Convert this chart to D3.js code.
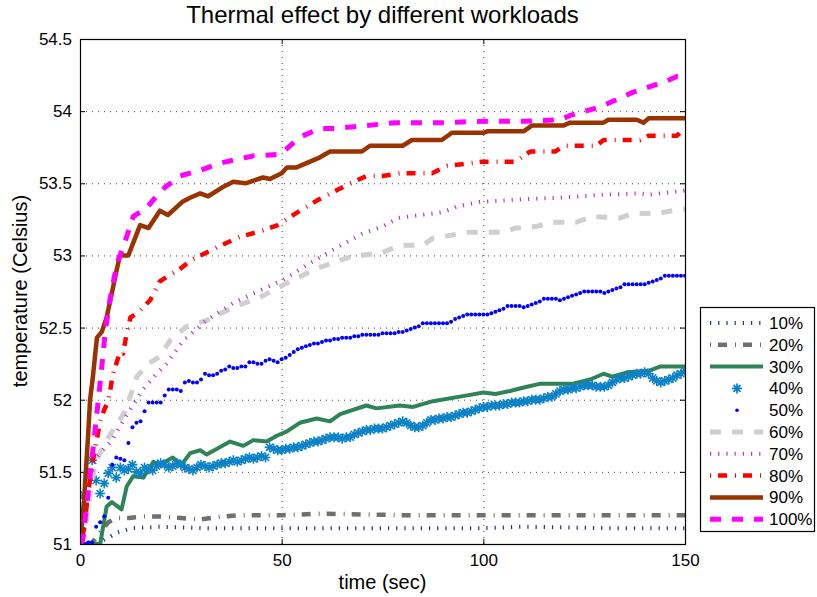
<!DOCTYPE html>
<html>
<head>
<meta charset="utf-8">
<script src="https://cdn.jsdelivr.net/npm/d3@7"></script>
<style>
    body { margin: 0; background: #fff; }
    text { font-family: "Liberation Sans", Arial, Helvetica, sans-serif; fill: #000; }
</style>
</head>
<body>
<svg id="chart" width="817" height="597"></svg>
<script>
// ---- data (time in sec, temperature in Celsius) ----
const xTicks = [0, 50, 100, 150];
const yTicks = [51, 51.5, 52, 52.5, 53, 53.5, 54, 54.5];
const labels = ["10%", "20%", "30%", "40%", "50%", "60%", "70%", "80%", "90%", "100%"];

const t10 = [0, 4, 6, 7.4, 9.2, 13, 20, 30, 50, 80, 100, 110, 130, 150];
const v10 = [51.0, 51.0, 51.03, 51.05, 51.08, 51.11, 51.12, 51.11, 51.11, 51.11, 51.11, 51.12, 51.11, 51.11];

const t20 = [0, 3, 5, 7, 9, 12, 16, 20, 25, 30, 35, 40, 50, 60, 80, 100, 120, 150];
const v20 = [51.0, 51.01, 51.08, 51.15, 51.18, 51.18, 51.19, 51.19, 51.18, 51.17, 51.19, 51.2, 51.2, 51.21, 51.2, 51.2, 51.2, 51.2];

const t30 = [0, 5, 6.6, 7.9, 10.3, 11.6, 13.2, 15.7, 18.2, 19.8, 23, 25.2, 27.3, 29.8, 31.4, 37.2, 40.5, 43, 46.3, 48.8,
    51.3, 54.5, 58.7, 62, 64.5, 71, 73.5, 79.3, 82.6, 87.5, 96, 100, 103, 106.6, 110.8, 114, 122, 126.5, 129.8, 132,
    135.6, 141, 143.8, 150];
const v30 = [51.0, 51.0, 51.26, 51.29, 51.24, 51.40, 51.47, 51.46, 51.57, 51.55, 51.6, 51.55, 51.63, 51.65, 51.62, 51.71, 51.68, 51.72, 51.71, 51.75,
    51.78, 51.84, 51.87, 51.85, 51.9, 51.96, 51.94, 51.96, 51.95, 51.99, 52.03, 52.05, 52.04, 52.06, 52.09, 52.11, 52.11, 52.14, 52.18, 52.16,
    52.19, 52.2, 52.23, 52.23];

// 40% and 50% are sampled every second, t = 0 .. 150
const v40 = [
    51.00, 51.34, 51.49, 51.58, 51.44, 51.35, 51.42, 51.49, 51.53, 51.46,
    51.53, 51.51, 51.52, 51.55, 51.50, 51.49, 51.53, 51.52, 51.51, 51.54,
    51.56, 51.55, 51.53, 51.54, 51.56, 51.55, 51.53, 51.52, 51.51, 51.53,
    51.55, 51.54, 51.53, 51.54, 51.55, 51.56, 51.56, 51.57, 51.58, 51.57,
    51.58, 51.59, 51.60, 51.59, 51.60, 51.61, 51.60, 51.67, 51.66, 51.65,
    51.65, 51.66, 51.66, 51.67, 51.67, 51.68, 51.69, 51.70, 51.71, 51.71,
    51.72, 51.73, 51.74, 51.74, 51.74, 51.73, 51.74, 51.74, 51.76, 51.77,
    51.78, 51.79, 51.79, 51.80, 51.80, 51.80, 51.81, 51.82, 51.83, 51.84,
    51.85, 51.84, 51.82, 51.81, 51.81, 51.82, 51.84, 51.86, 51.86, 51.87,
    51.87, 51.88, 51.88, 51.89, 51.90, 51.91, 51.91, 51.92, 51.93, 51.94,
    51.95, 51.95, 51.96, 51.96, 51.96, 51.97, 51.97, 51.98, 51.98, 51.98,
    51.99, 51.99, 52.00, 52.00, 52.00, 52.01, 52.02, 52.02, 52.04, 52.06,
    52.07, 52.07, 52.08, 52.08, 52.09, 52.10, 52.10, 52.10, 52.09, 52.09,
    52.09, 52.10, 52.12, 52.14, 52.15, 52.15, 52.16, 52.17, 52.18, 52.18,
    52.19, 52.18, 52.15, 52.13, 52.12, 52.13, 52.14, 52.15, 52.17, 52.18, 52.20
];
const v50 = [
    51.00, 51.00, 51.01, 51.01, 51.12, 51.15, 51.19, 51.32, 51.55, 51.60,
    51.59, 51.58, 51.70, 51.81, 51.84, 51.85, 51.92, 51.98, 51.98, 51.98,
    51.98, 52.03, 52.07, 52.07, 52.07, 52.06, 52.12, 52.13, 52.12, 52.12,
    52.14, 52.18, 52.17, 52.17, 52.18, 52.20, 52.21, 52.23, 52.22, 52.22,
    52.23, 52.23, 52.26, 52.26, 52.25, 52.25, 52.27, 52.28, 52.27, 52.26,
    52.28, 52.29, 52.31, 52.33, 52.35, 52.36, 52.37, 52.38, 52.39, 52.39,
    52.40, 52.41, 52.41, 52.42, 52.42, 52.43, 52.43, 52.43, 52.44, 52.44,
    52.45, 52.45, 52.45, 52.45, 52.45, 52.46, 52.46, 52.46, 52.46, 52.47,
    52.47, 52.48, 52.49, 52.50, 52.51, 52.53, 52.53, 52.53, 52.53, 52.53,
    52.53, 52.53, 52.54, 52.56, 52.57, 52.58, 52.59, 52.59, 52.59, 52.59,
    52.59, 52.59, 52.60, 52.61, 52.62, 52.63, 52.65, 52.65, 52.65, 52.65,
    52.64, 52.65, 52.66, 52.67, 52.68, 52.70, 52.70, 52.70, 52.70, 52.69,
    52.70, 52.71, 52.72, 52.73, 52.74, 52.75, 52.75, 52.75, 52.75, 52.75,
    52.74, 52.75, 52.76, 52.77, 52.78, 52.80, 52.80, 52.80, 52.80, 52.80,
    52.80, 52.81, 52.82, 52.83, 52.84, 52.86, 52.86, 52.86, 52.86, 52.86, 52.86
];

const t60 = [0, 1, 2, 3, 4, 5.8, 8.2, 11.2, 14.1, 17, 19.8, 22.3, 26.5, 31.4, 38, 44.6, 52.8, 58.7, 67, 75,
    79.3, 85, 87.5, 90, 96, 105, 108, 113, 117, 123, 127, 134, 137, 143, 147, 150];
const v60 = [51.0, 51.05, 51.25, 51.45, 51.57, 51.68, 51.79, 51.92, 52.16, 52.25, 52.30, 52.41, 52.51, 52.55, 52.64, 52.71, 52.83, 52.91, 52.99, 53.02,
    53.07, 53.07, 53.12, 53.13, 53.16, 53.16, 53.19, 53.20, 53.23, 53.23, 53.27, 53.26, 53.29, 53.29, 53.31, 53.32];

const t70 = [0, 1, 2, 3, 4, 6, 8, 10, 12.4, 15.6, 19, 21.5, 25.6, 31.4, 38, 44, 50.4, 56, 62.8, 70,
    75, 79, 90, 93.5, 99, 110, 119, 129, 139, 141, 150];
const v70 = [51.0, 51.15, 51.35, 51.5, 51.6, 51.66, 51.72, 51.82, 51.93, 52.07, 52.18, 52.25, 52.41, 52.55, 52.67, 52.75, 52.83, 52.93, 53.04, 53.15,
    53.2, 53.26, 53.30, 53.34, 53.37, 53.39, 53.40, 53.42, 53.43, 53.42, 53.45];

const t80 = [0, 1, 2, 3, 4, 5, 6, 7, 8.2, 9.9, 10.7, 11.5, 12.5, 13.6, 14.9, 17.4, 19.8, 22, 24.5, 27.7,
    31.4, 35, 39.7, 45, 49, 54, 58.7, 62.8, 67, 71, 75, 79.3, 87.3, 91, 100, 108, 111.6, 117.8, 120, 128,
    129.8, 138.9, 141, 148, 150];
const v80 = [51.0, 51.1, 51.35, 51.55, 51.7, 51.85, 51.93, 51.99, 52.18, 52.33, 52.32, 52.45, 52.57, 52.59, 52.62, 52.69, 52.82, 52.86, 52.9, 52.97,
    53.02, 53.07, 53.13, 53.17, 53.21, 53.3, 53.38, 53.44, 53.5, 53.55, 53.55, 53.57, 53.57, 53.62, 53.65, 53.65, 53.72, 53.72, 53.76, 53.76,
    53.80, 53.80, 53.83, 53.83, 53.88];

const t90 = [0, 1, 2, 2.5, 3.2, 4.2, 5.4, 6.6, 7.9, 9.1, 9.9, 12, 14.9, 17, 19.8, 21.8, 25.3, 27.3, 29.8, 31.8,
    35.2, 38, 41, 45.4, 47.1, 50, 51.3, 53.7, 59.5, 62, 69.9, 71.9, 80, 82.3, 89.7, 92.2, 100, 101, 110, 112,
    119.8, 121.5, 129.8, 131, 138, 139.7, 141, 150];
const v90 = [51.0, 51.3, 51.75, 52.0, 52.16, 52.43, 52.47, 52.57, 52.74, 52.9, 53.0, 53.0, 53.21, 53.19, 53.31, 53.28, 53.37, 53.40, 53.43, 53.41,
    53.47, 53.51, 53.50, 53.54, 53.53, 53.57, 53.61, 53.61, 53.68, 53.72, 53.72, 53.76, 53.76, 53.80, 53.80, 53.85, 53.85, 53.86, 53.86, 53.90,
    53.90, 53.92, 53.92, 53.94, 53.94, 53.92, 53.95, 53.95];

const t100 = [0, 0.7, 2, 3.2, 5, 5.8, 6.2, 7.4, 8.5, 9.5, 11, 13.2, 16.6, 18, 21, 24.8, 29.8, 34.7, 43, 49.6,
    54.5, 59.5, 63, 71, 78, 90, 100, 110, 119, 121.5, 129, 137, 145.5, 148, 150];
const v100 = [51.0, 51.03, 51.35, 51.65, 52.12, 52.34, 52.46, 52.69, 52.85, 52.97, 53.08, 53.27, 53.33, 53.38, 53.47, 53.55, 53.59, 53.64, 53.69, 53.70,
    53.82, 53.88, 53.88, 53.90, 53.92, 53.92, 53.93, 53.93, 53.94, 53.97, 54.03, 54.13, 54.21, 54.24, 54.24];

const seconds = d3.range(0, 151);

// ---- look of each series ----
const styles = [
    { kind: "line", t: t10, v: v10, color: "#22337a", width: 4, dash: "1.2,7" },
    { kind: "line", t: t20, v: v20, color: "#707070", width: 4.5, dash: "1,7,9,8" },
    { kind: "line", t: t30, v: v30, color: "#2e8456", width: 4, dash: null },
    { kind: "star", t: seconds, v: v40, color: "#0b82c8" },
    { kind: "dot", t: seconds, v: v50, color: "#0000ff" },
    { kind: "line", t: t60, v: v60, color: "#cfcfcf", width: 5, dash: "11,11" },
    { kind: "line", t: t70, v: v70, color: "#b43cc0", width: 4, dash: "1.2,7" },
    { kind: "line", t: t80, v: v80, color: "#ff0000", width: 4.5, dash: "1,7,9,8" },
    { kind: "line", t: t90, v: v90, color: "#993300", width: 4.5, dash: null },
    { kind: "line", t: t100, v: v100, color: "#ff00ff", width: 5, dash: "11,11" }
];

const svg = d3.select("#chart");
const x = d3.scaleLinear().domain([0, 150]).range([80, 685]);
const y = d3.scaleLinear().domain([51, 54.5]).range([544, 39]);

// matlab style '*' marker: 8 spokes
const asterisk = {
    draw(ctx, size) {
        const r = Math.sqrt(size) / 2;
        const d = r * Math.SQRT1_2;
        ctx.moveTo(-r, 0); ctx.lineTo(r, 0);
        ctx.moveTo(0, -r); ctx.lineTo(0, r);
        ctx.moveTo(-d, -d); ctx.lineTo(d, d);
        ctx.moveTo(-d, d); ctx.lineTo(d, -d);
    }
};

svg.append("defs").append("clipPath").attr("id", "plotClip")
    .append("rect").attr("x", 80).attr("y", 39).attr("width", 605).attr("height", 505);

// grid
const grid = svg.append("g").attr("stroke", "#444").attr("stroke-width", 1).attr("stroke-dasharray", "1,5");
grid.selectAll(".gx").data(xTicks.slice(1, -1)).enter().append("line")
    .attr("x1", d => x(d) + 0.5).attr("x2", d => x(d) + 0.5)
    .attr("y1", y(54.5)).attr("y2", y(51));
grid.selectAll(".gy").data(yTicks.slice(1, -1)).enter().append("line")
    .attr("x1", x(0)).attr("x2", x(150))
    .attr("y1", d => y(d) + 0.5).attr("y2", d => y(d) + 0.5);

// axes with inward ticks on all four sides
const fmt = d => String(d);
const axB = svg.append("g").attr("transform", `translate(0,${y(51)})`)
    .call(d3.axisBottom(x).tickValues(xTicks).tickFormat(fmt).tickSizeInner(-5).tickSizeOuter(0).tickPadding(10));
const axL = svg.append("g").attr("transform", `translate(${x(0)},0)`)
    .call(d3.axisLeft(y).tickValues(yTicks).tickFormat(fmt).tickSizeInner(-5).tickSizeOuter(0).tickPadding(8));
const axT = svg.append("g").attr("transform", `translate(0,${y(54.5)})`)
    .call(d3.axisTop(x).tickValues(xTicks).tickFormat("").tickSizeInner(-5).tickSizeOuter(0));
const axR = svg.append("g").attr("transform", `translate(${x(150)},0)`)
    .call(d3.axisRight(y).tickValues(yTicks).tickFormat("").tickSizeInner(-5).tickSizeOuter(0));
[axB, axL, axT, axR].forEach(a => {
    a.select(".domain").remove();
    a.selectAll("line").attr("stroke", "#000");
    a.selectAll("text").style("font-size", "17px").attr("fill", "#000");
});

// series
const plot = svg.append("g").attr("clip-path", "url(#plotClip)");
const line = d3.line().x(d => x(d[0])).y(d => y(d[1]));

styles.forEach(s => {
    const pts = s.t.map((t, i) => [t, s.v[i]]);
    if (s.kind === "line") {
        plot.append("path")
            .attr("d", line(pts))
            .attr("fill", "none")
            .attr("stroke", s.color)
            .attr("stroke-width", s.width)
            .attr("stroke-dasharray", s.dash)
            .attr("stroke-linejoin", "round");
    } else if (s.kind === "star") {
        plot.append("g").selectAll("path").data(pts).enter().append("path")
            .attr("d", d3.symbol().type(asterisk).size(100))
            .attr("transform", d => `translate(${x(d[0])},${y(d[1])})`)
            .attr("fill", "none").attr("stroke", s.color).attr("stroke-width", 1.6);
    } else {
        plot.append("g").selectAll("circle").data(pts).enter().append("circle")
            .attr("cx", d => x(d[0])).attr("cy", d => y(d[1])).attr("r", 2)
            .attr("fill", s.color);
    }
});

// plot border
svg.append("rect")
    .attr("x", 80.5).attr("y", 39.5).attr("width", 605).attr("height", 505)
    .attr("fill", "none").attr("stroke", "#000").attr("stroke-width", 1.2);

// titles
svg.append("text").attr("x", 382.5).attr("y", 23).attr("text-anchor", "middle")
    .style("font-size", "24px").text("Thermal effect by different workloads");
svg.append("text").attr("x", 382.5).attr("y", 589).attr("text-anchor", "middle")
    .style("font-size", "20px").text("time (sec)");
svg.append("text").attr("transform", "translate(27,291) rotate(-90)").attr("text-anchor", "middle")
    .style("font-size", "20px").text("temperature (Celsius)");

// legend
const lg = svg.append("g");
lg.append("rect").attr("x", 700.5).attr("y", 307.5).attr("width", 114).attr("height", 224)
    .attr("fill", "#fff").attr("stroke", "#000").attr("stroke-width", 1.2);
styles.forEach((s, i) => {
    const cy = 323 + i * 21.8;
    if (s.kind === "line") {
        lg.append("line").attr("x1", 710).attr("x2", 763).attr("y1", cy).attr("y2", cy)
            .attr("stroke", s.color).attr("stroke-width", s.width).attr("stroke-dasharray", s.dash);
    } else if (s.kind === "star") {
        lg.append("path").attr("d", d3.symbol().type(asterisk).size(100))
            .attr("transform", `translate(737,${cy})`)
            .attr("fill", "none").attr("stroke", s.color).attr("stroke-width", 1.8);
    } else {
        lg.append("circle").attr("cx", 737).attr("cy", cy).attr("r", 1.8).attr("fill", s.color);
    }
    lg.append("text").attr("x", 769).attr("y", cy).attr("dy", "0.35em")
        .style("font-size", "17px").text(labels[i]);
});
</script>
</body>
</html>
